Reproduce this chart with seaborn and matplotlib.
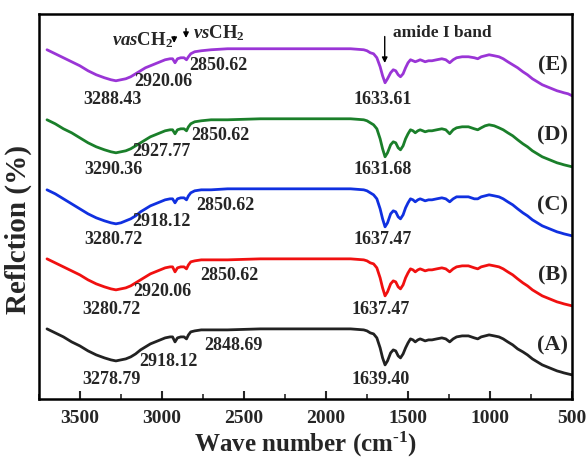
import numpy as np
import pandas as pd
import seaborn as sns
import matplotlib.pyplot as plt

# wave numbers (cm-1)
wn = [3700, 3650, 3600, 3550, 3500, 3450, 3400, 3350, 3310, 3280,
      3250, 3220, 3190, 3160, 3130, 3100, 3070, 3040, 3010, 2980,
      2950, 2935, 2920, 2905, 2885, 2865, 2850, 2838, 2824, 2800,
      2760, 2700, 2600, 2400, 2200, 2000, 1850, 1770, 1750, 1730,
      1710, 1690, 1670, 1655, 1640, 1625, 1606, 1590, 1575, 1560,
      1546, 1530, 1515, 1500, 1485, 1470, 1456, 1440, 1426, 1410,
      1396, 1375, 1354, 1325, 1294, 1270, 1246, 1225, 1204, 1170,
      1132, 1096, 1075, 1054, 1030, 1006, 975, 946, 920, 892,
      862, 832, 800, 772, 742, 712, 682, 652, 622, 592,
      570, 550, 525, 500]

refl_A = [51, 47, 43, 38, 34, 29, 25, 22, 20, 19,
          20, 21, 23, 26, 30, 33, 36, 38, 40, 42,
          43, 43, 38, 42, 43, 43, 41, 45, 48, 49,
          50, 50, 50, 51, 51, 51, 51, 50, 49, 47,
          46, 42, 32, 22, 15, 19, 27, 30, 29, 24,
          22, 26, 32, 37, 41, 40, 38, 40, 41, 40,
          39, 40, 40, 41, 42, 41, 38, 41, 43, 44,
          44, 42, 41, 43, 44, 45, 44, 43, 41, 38,
          35, 31, 28, 25, 21, 18, 15, 13, 11, 9,
          8, 7, 6, 5]
refl_B = [51, 47, 43, 39, 35, 30, 26, 23, 21, 20,
          21, 22, 24, 27, 30, 33, 36, 38, 40, 42,
          43, 43, 38, 42, 43, 43, 41, 45, 48, 49,
          50, 50, 50, 51, 51, 51, 51, 50, 49, 47,
          46, 42, 32, 22, 14, 18, 26, 29, 28, 23,
          21, 25, 32, 37, 41, 40, 38, 40, 41, 40,
          39, 40, 40, 41, 42, 41, 38, 41, 43, 44,
          44, 42, 41, 43, 44, 45, 44, 43, 41, 38,
          35, 31, 27, 24, 20, 17, 14, 12, 10, 8,
          7, 6, 5, 4]
refl_C = [50, 46, 41, 36, 31, 26, 22, 19, 17, 16,
          17, 19, 21, 24, 28, 31, 34, 36, 38, 40,
          41, 41, 37, 41, 42, 42, 40, 44, 47, 49,
          50, 50, 51, 51, 51, 51, 51, 50, 49, 47,
          45, 41, 31, 21, 13, 17, 26, 29, 28, 23,
          21, 25, 32, 37, 41, 40, 38, 40, 41, 40,
          39, 40, 40, 41, 42, 41, 38, 41, 43, 43,
          43, 41, 41, 43, 44, 45, 44, 43, 41, 38,
          35, 31, 27, 24, 20, 17, 14, 12, 10, 8,
          7, 6, 5, 4]
refl_D = [50, 46, 41, 37, 32, 27, 23, 20, 18, 17,
          18, 19, 21, 24, 27, 30, 33, 35, 37, 39,
          40, 40, 36, 40, 41, 41, 39, 43, 46, 48,
          49, 50, 50, 51, 51, 51, 51, 50, 49, 47,
          45, 41, 31, 21, 13, 17, 25, 28, 27, 22,
          20, 24, 31, 36, 40, 39, 37, 39, 40, 39,
          38, 39, 39, 40, 41, 40, 36, 40, 42, 43,
          43, 41, 40, 42, 44, 45, 44, 42, 40, 37,
          34, 30, 26, 23, 19, 16, 13, 11, 9, 7,
          6, 5, 4, 3]
refl_E = [50, 46, 42, 38, 34, 29, 25, 22, 20, 19,
          20, 21, 23, 26, 29, 32, 34, 36, 38, 40,
          41, 41, 37, 41, 42, 42, 40, 43, 46, 48,
          49, 50, 51, 51, 51, 51, 51, 50, 49, 47,
          46, 42, 33, 24, 17, 21, 27, 30, 29, 25,
          23, 26, 32, 37, 40, 39, 38, 39, 40, 39,
          38, 39, 39, 40, 41, 40, 37, 40, 42, 43,
          43, 42, 41, 43, 44, 45, 44, 43, 41, 38,
          35, 32, 28, 25, 21, 18, 15, 13, 11, 9,
          8, 7, 6, 4]

samples = ["(A)", "(B)", "(C)", "(D)", "(E)"]
series = [refl_A, refl_B, refl_C, refl_D, refl_E]
shift = [20, 90, 160, 230, 300]  # vertical stacking of the spectra
colors = ["#222222", "#f01010", "#1030e0", "#1a7f2a", "#9a35d6"]

oh_peak = ["3278.79", "3280.72", "3280.72", "3290.36", "3288.43"]
vas_peak = ["2918.12", "2920.06", "2918.12", "2927.77", "2920.06"]
vs_peak = ["2848.69", "2850.62", "2850.62", "2850.62", "2850.62"]
amide_peak = ["1639.40", "1637.47", "1637.47", "1631.68", "1633.61"]

rows = []
for s, vals, off in zip(samples, series, shift):
    for x, v in zip(wn, vals):
        rows.append((s, x, v + off))
df = pd.DataFrame(rows, columns=["sample", "wn", "refl"])

sns.set_theme(style="ticks")
plt.rcParams['font.family'] = ['Liberation Serif', 'DejaVu Serif']
plt.rcParams['font.weight'] = 'bold'
plt.rcParams['mathtext.fontset'] = 'custom'
plt.rcParams['mathtext.rm'] = 'Liberation Serif:bold'
plt.rcParams['mathtext.bf'] = 'Liberation Serif:bold'
plt.rcParams['mathtext.it'] = 'Liberation Serif:bold:italic'
plt.rcParams['mathtext.bfit'] = 'Liberation Serif:bold:italic'
plt.rcParams['mathtext.default'] = 'bf'

fig = plt.figure(figsize=(5.88, 4.58), dpi=100)
ax = fig.add_axes([0.066, 0.129, 0.907, 0.841])

sns.lineplot(data=df, x="wn", y="refl", hue="sample", palette=dict(zip(samples, colors)),
             estimator=None, linewidth=2, legend=False, ax=ax)

ax.set_xlim(3700, 500)
ax.set_ylim(1, 386)
ax.set_xticks([3500, 3000, 2500, 2000, 1500, 1000, 500])
ax.set_xticks(np.arange(3750, 500, -500), minor=True)
ax.set_yticks([])
ax.tick_params(axis='x', direction='in', length=6, width=1.5, labelsize=14, pad=8)
ax.tick_params(axis='x', which='minor', direction='in', length=3.5, width=1.2)
for sp in ax.spines.values():
    sp.set_linewidth(1.8)
    sp.set_color('black')
for lab in ax.get_xticklabels():
    lab.set_fontweight('bold')

ax.set_xlabel(r"Wave number (cm$^{\text{-}1}$)", fontsize=18, fontweight='bold', labelpad=2)
ax.set_ylabel("Reflction (%)", fontsize=21, fontweight='bold')
ax.yaxis.set_label_coords(-0.012, 0.44)

fs = 13
vs_x = [2566, 2590, 2614, 2644, 2656]
vas_x = [2962, 2998, 3004, 3004, 2992]
oh_x = [3310, 3310, 3298, 3298, 3298]
am_x = [1666, 1666, 1654, 1654, 1654]
for i, off in enumerate(shift):
    ax.text(oh_x[i], off, oh_peak[i], fontsize=fs, fontweight='bold', ha='center', va='center')
    ax.text(vas_x[i], off + 18, vas_peak[i], fontsize=fs, fontweight='bold', ha='center', va='center')
    ax.text(vs_x[i], off + 34, vs_peak[i], fontsize=fs, fontweight='bold', ha='center', va='center')
    ax.text(am_x[i], off, amide_peak[i], fontsize=fs, fontweight='bold', ha='center', va='center')
    ax.text(620, off + 34, samples[i], fontsize=16, fontweight='bold', ha='center', va='center')

arrow = dict(arrowstyle='-|>', color='black', lw=1, mutation_scale=8)
ax.annotate("", xy=(2925, 354), xytext=(2925, 366), arrowprops=arrow)
ax.annotate("", xy=(2853, 359), xytext=(2853, 374), arrowprops=arrow)
ax.annotate("", xy=(1642, 334), xytext=(1642, 366), arrowprops=arrow)
ax.text(3118, 360, r"$\mathit{vas}$CH$_2$", fontsize=13.5, ha='center', va='center')
ax.text(2650, 367, r"$\mathit{vs}$CH$_2$", fontsize=13.5, ha='center', va='center')
ax.text(1594, 367, "amide I band", fontsize=12.5, fontweight='bold', ha='left', va='center')

fig.savefig("out.png", dpi=100)
